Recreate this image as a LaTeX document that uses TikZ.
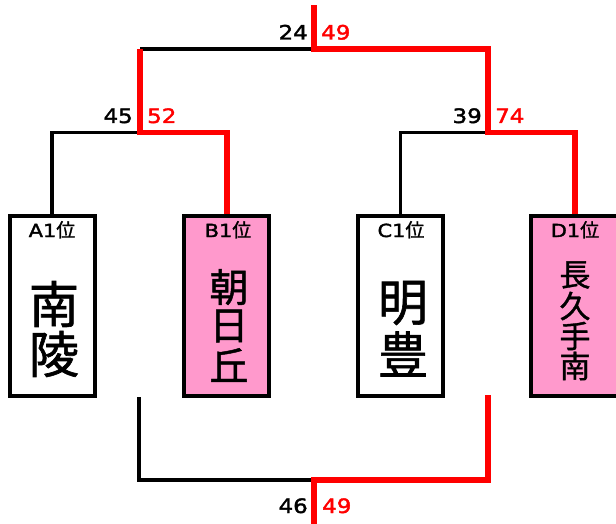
\documentclass[tikz,border=0pt]{standalone}
\usepackage{fontspec}
\setmainfont[FakeBold=1.2]{Noto Sans CJK JP}
\newfontfamily\numfont[FakeStretch=1.16,FakeBold=2]{DejaVu Sans}
\definecolor{pinkfill}{HTML}{FF99CC}
\definecolor{winred}{HTML}{FF0000}
\begin{document}
\begin{tikzpicture}[x=1pt,y=-1pt,
  team/.style={draw=black,line width=4pt,minimum width=85pt,minimum height=180pt,inner sep=0pt},
  winteam/.style={team,fill=pinkfill},
  rank/.style={font=\fontsize{19}{19}\selectfont,anchor=base,inner sep=0pt},
  bigA/.style={font=\fontsize{50}{50}\selectfont,inner sep=0pt},
  bigB/.style={font=\fontsize{39}{39}\selectfont,inner sep=0pt},
  bigD/.style={font=\fontsize{31}{31}\selectfont,inner sep=0pt},
  lose/.style={line width=3.6pt,black,line join=miter},
  win/.style={line width=5.6pt,winred,line join=miter},
  score/.style={font=\numfont\fontsize{19.8}{21}\selectfont,inner sep=0pt},
  lscore/.style={score,anchor=base east,text=black},
  wscore/.style={score,anchor=base west,text=winred}]
\newcommand{\rk}[1]{{\numfont\fontsize{18}{18}\selectfont #1}位}
\useasboundingbox (0,0) rectangle (616,524);
\fill[white] (0,0) rectangle (616,524);
\begin{scope}
\clip (0,0) rectangle (616,524);
% boxes
\node[team] (A) at (52.25,306) {};
\node[winteam] (B) at (226.5,306) {};
\node[team] (C) at (400.5,306) {};
\node[winteam,minimum width=110pt] (D) at (586,306) {};
% rank labels
\node[rank] (Al) at (52,237) {\rk{A1}};
\node[rank] (Bl) at (228,237) {\rk{B1}};
\node[rank] (Cl) at (401,237) {\rk{C1}};
\node[rank] (Dl) at (575,237) {\rk{D1}};
% team names
\node[bigA] (A1) at (54,304) {南};
\node[bigA] (A2) at (54,354) {陵};
\node[bigB] (B1) at (229,287) {朝};
\node[bigB] (B2) at (229,326) {日};
\node[bigB] (B3) at (229,365) {丘};
\node[bigA] (C1) at (403,303) {明};
\node[bigA] (C2) at (403,354) {豊};
\node[bigD] (D1) at (575,275) {長};
\node[bigD] (D2) at (575,306) {久};
\node[bigD] (D3) at (575,336) {手};
\node[bigD] (D4) at (575,366) {南};
% junction coordinates
\coordinate (jAB) at (140,132.5);
\coordinate (jCD) at (488,132.5);
\coordinate (top) at (314,49);
\coordinate (topend) at (314,5);
\coordinate (bl) at (139,397);
\coordinate (br) at (488,395);
\coordinate (bot) at (314,480);
\coordinate (botend) at (314,530);
% losers (black)
\draw[lose] (A.north) |- (jAB);
\draw[lose] (C.north) |- (jCD);
\draw[lose] (jAB |- top) -- (top);
\draw[lose] (bl) |- (bot);
% winners (red)
\draw[win] (B.north -| 227,0) |- (jAB) -- (jAB |- top);
\draw[win] (D.north -| 575,0) |- (jCD) -- (jCD |- top) -- (top) -- (topend);
\draw[win] (br) |- (bot) -- (botend);
\end{scope}
% scores
\node[lscore] (s24) at (308,39.5) {24};
\node[wscore] (s49t) at (321,39.5) {49};
\node[lscore] (s45) at (133,123) {45};
\node[wscore] (s52) at (147,123) {52};
\node[lscore] (s39) at (482,123) {39};
\node[wscore] (s74) at (495,123) {74};
\node[lscore] (s46) at (308,513) {46};
\node[wscore] (s49b) at (322,513) {49};
\end{tikzpicture}
\end{document}
